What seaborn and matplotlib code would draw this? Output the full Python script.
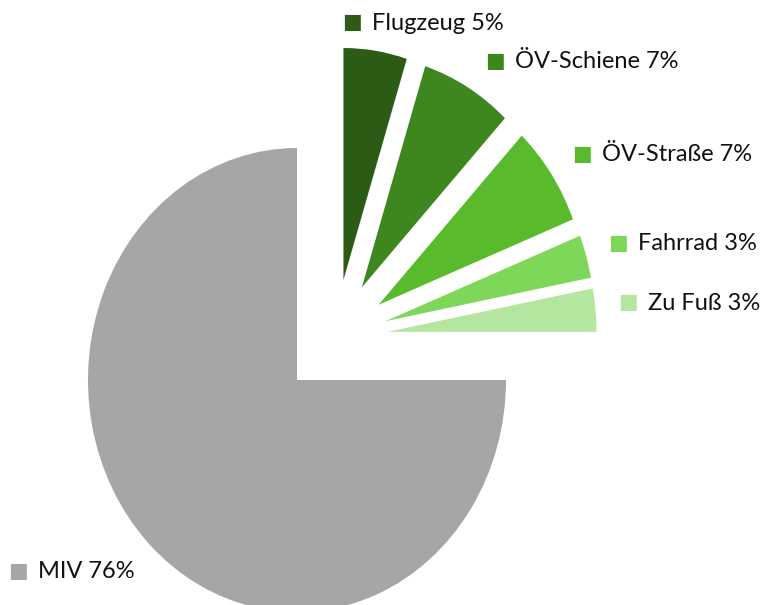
import numpy as np
import matplotlib
matplotlib.use("Agg")
import matplotlib.pyplot as plt
import seaborn as sns

# shares of trips by mode: wedge sizes, labels as printed
modes = ["Flugzeug", "ÖV-Schiene", "ÖV-Straße", "Fahrrad", "Zu Fuß", "MIV"]
shares = [4.9, 7.1, 7.0, 3.0, 3.0, 75.0]
label_pct = [5, 7, 7, 3, 3, 76]

greens = ["#2b5b14", "#3e861e", "#59bb2c", "#7fd75a", "#b4e6a0"]
grey = "#a6a6a6"

sns.set_style("white")
plt.rcParams["font.family"] = ["Lato", "DejaVu Sans"]

W, H = 764, 605
fig = plt.figure(figsize=(W / 100, H / 100), dpi=100)
ax = fig.add_axes([0, 0, 1, 1])

n_green = len(modes) - 1
wp = dict(linewidth=0)

# MIV wedge, undisplaced
ax.pie(shares, colors=["none"] * n_green + [grey], startangle=90,
       counterclock=False, wedgeprops=wp)

# green wedges: pulled out as a group, then each exploded
shift = 0.26
ax.pie(shares, colors=greens + ["none"], startangle=90, counterclock=False,
       explode=[0.25] * n_green + [0],
       center=(shift * np.cos(np.pi / 4), shift * np.sin(np.pi / 4)),
       wedgeprops=wp)

# stretch to match reference (pie is slightly taller than wide)
ax.set_aspect("auto")
rx, ry = 209, 232          # pixel radius horizontally / vertically
cx, cy = 297, 380          # pixel centre
x0 = -cx / rx
ax.set_xlim(x0, x0 + W / rx)
y1 = cy / ry
ax.set_ylim(y1 - H / ry, y1)
ax.axis("off")

# label layout: (square centre x, centre y) in pixels
label_pos = [(352, 22), (495, 61), (582, 154), (618, 243), (628, 302), (18, 571)]
colors = greens + [grey]
for (px, py), name, pct, col in zip(label_pos, modes, label_pct, colors):
    fx, fy = px / W, 1 - py / H
    fig.text(fx, fy, "■", color=col, fontsize=15, ha="center", va="center",
             family="DejaVu Sans")
    fig.text(fx + 20 / W, fy - 1 / H, f"{name} {pct}%", color="#111111",
             fontsize=17, ha="left", va="center")

fig.savefig("out.png", dpi=100)
